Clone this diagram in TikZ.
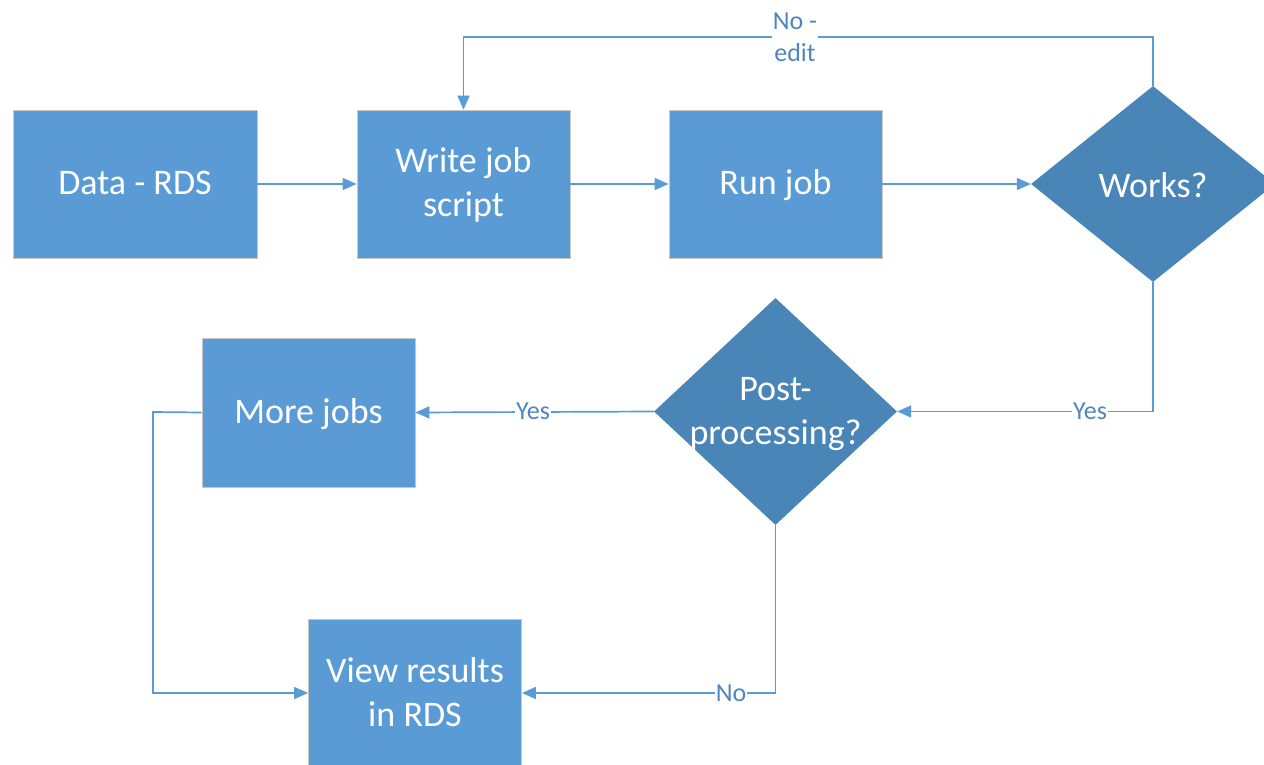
\documentclass[tikz,border=0pt]{standalone}
\usepackage{fontspec}
\setmainfont{Carlito}
\usetikzlibrary{shapes.geometric,arrows.meta}
\definecolor{boxblue}{HTML}{5B9BD5}
\definecolor{diablue}{HTML}{4A85B8}
\definecolor{lineblue}{HTML}{5B9BD5}
\definecolor{labblue}{HTML}{4F86BF}
\begin{document}
\begin{tikzpicture}[x=1pt,y=-1pt,
  box/.style={draw=black!22, line width=0.8pt, fill=boxblue, minimum width=213pt, minimum height=148pt, inner sep=0pt, text=white, font=\fontsize{36}{44}\selectfont, align=center, text depth=3pt},
  dia/.style={diamond, fill=diablue, inner sep=0pt},
  dtext/.style={text=white, font=\fontsize{36}{44}\selectfont, align=center},
  conn/.style={draw=lineblue, line width=1.7pt, -{Triangle[length=14pt,width=12pt]}},
  lab/.style={fill=white, text=labblue, font=\fontsize{26}{32}\selectfont, inner sep=1pt, align=center}]
\useasboundingbox (0,0) rectangle (1264,765);
\fill[white] (0,0) rectangle (1264,765);
\node[box, minimum width=244pt] (data) at (135,184) {Data - RDS};
\node[box] (write) at (463.5,184) {Write job\\script};
\node[box] (run) at (775.5,184) {Run job};
\node[dia, minimum width=244pt, minimum height=196pt] (works) at (1153,184) {};
\node[dtext] (workst) at (1153,185) {Works?};
\node[dia, minimum width=243pt, minimum height=227pt] (post) at (775.5,411.5) {};
\node[dtext] (postt) at (775.5,414) {Post-\\processing?};
\node[box, minimum height=149pt] (more) at (308.5,412.5) {More jobs};
\node[box] (view) at (415,693) {View results\\in RDS};
\coordinate (c1) at (1153,37);
\coordinate (c3) at (153,412);
\draw[conn] (data) -- (write);
\draw[conn] (write) -- (run);
\draw[conn] (run) -- (works);
\draw[conn] (works.north) -- (c1) -| (write.north);
\draw[conn] (works.south) |- (post.east);
\draw[conn] (post.west) -- (more.east);
\draw[conn] (post.south) |- (view.east);
\draw[conn] (more.west) -- (c3) |- (view.west);
\node[lab] (noedit) at (795,37) {No -\\edit};
\node[lab] (yes1) at (1090,411.5) {Yes};
\node[lab] (yes2) at (533,411.5) {Yes};
\node[lab] (no2) at (731,693) {No};
\end{tikzpicture}
\end{document}
